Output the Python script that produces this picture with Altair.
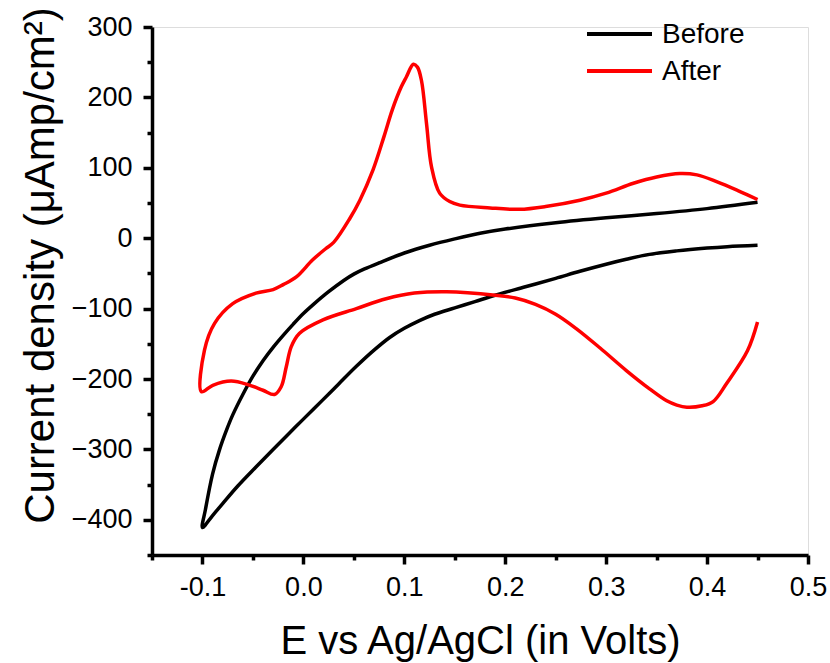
import altair as alt
import pandas as pd

series_names = ["Before", "After"]
series_colors = ["#000000", "#ff0000"]

# Before: reverse branch (right -> left) then forward branch (left -> right)
before_x = [0.45, 0.42, 0.40, 0.37, 0.343, 0.32, 0.30, 0.274, 0.25, 0.22, 0.19, 0.17, 0.15, 0.13,
            0.115, 0.10, 0.0855, 0.07, 0.0525, 0.035, 0.019, 0.0, -0.014, -0.03, -0.047, -0.065,
            -0.08, -0.09, -0.100,
            -0.097, -0.09, -0.083, -0.076, -0.07, -0.06, -0.05, -0.04, -0.03, -0.02, -0.01, 0.0,
            0.01, 0.025, 0.04, 0.05, 0.06, 0.075, 0.10, 0.125, 0.15, 0.175, 0.20, 0.25, 0.30,
            0.35, 0.40, 0.45]
before_y = [-10, -12, -14, -18, -23, -30, -37, -47, -57, -69, -81, -90, -99, -108,
            -117, -128, -141, -159, -182, -207, -230, -257, -277, -300, -325, -352,
            -377, -394, -411,
            -385, -335, -300, -272, -251, -222, -196, -174, -155, -138, -122, -107,
            -94, -76, -60, -51, -44, -35, -21, -10, -1, 7, 13, 22, 29,
            35, 42, 51]

# After: reverse branch (right -> left) then forward branch (left -> right)
after_x = [0.45, 0.44, 0.4195, 0.406, 0.395, 0.38, 0.37, 0.36, 0.343, 0.32, 0.294, 0.27, 0.25,
           0.23, 0.21, 0.19, 0.142, 0.11, 0.082, 0.0525, 0.0194, -0.0038, -0.012, -0.017, -0.022,
           -0.0286, -0.040, -0.053, -0.0716, -0.0898, -0.101,
           -0.098, -0.088, -0.070, -0.047, -0.030, -0.020, -0.007, 0.009, 0.022, 0.030, 0.046,
           0.056, 0.069, 0.080, 0.088, 0.097, 0.102, 0.109, 0.113, 0.117, 0.122, 0.127, 0.135,
           0.145, 0.155, 0.185, 0.214, 0.24, 0.274, 0.30, 0.327, 0.35, 0.373, 0.39, 0.41, 0.43, 0.45]
after_y = [-119, -160, -206, -232, -238, -240, -237, -231, -214, -188, -156, -128, -108,
           -94, -85, -81, -76, -78, -86, -100, -116, -135, -154, -183, -211,
           -222, -216, -209, -203, -209, -218,
           -159, -121, -93, -78, -73, -66, -55, -31, -15, -6, 28,
           54, 97, 145, 182, 215, 229, 247, 243, 224, 163, 101, 64,
           52, 47, 43, 41, 45, 54, 64, 78, 87, 92, 90, 80, 68, 55]

x_ticks = [-0.15, -0.1, -0.05, 0.0, 0.05, 0.1, 0.15, 0.2, 0.25, 0.3, 0.35, 0.4, 0.45, 0.5]
y_ticks = [-450, -400, -350, -300, -250, -200, -150, -100, -50, 0, 50, 100, 150, 200, 250, 300]

rows = []
for name, xs, ys in [("Before", before_x, before_y), ("After", after_x, after_y)]:
    for i, (xv, yv) in enumerate(zip(xs, ys)):
        rows.append({"series": name, "E": xv, "J": yv, "idx": i})
df = pd.DataFrame(rows)

FONT = "Liberation Sans"
color_scale = alt.Scale(domain=series_names, range=series_colors)

x_axis = alt.Axis(
    values=x_ticks,
    title="E vs Ag/AgCl (in Volts)",
    titleFont=FONT, titleFontSize=40, titleFontWeight="normal", titleColor="#000",
    titleBaseline="alphabetic", titleY=98,
    labelFont=FONT, labelFontSize=27, labelColor="#000",
    labelExpr="abs(round(datum.value*100)) % 10 == 0 ? (datum.value < -0.001 ? '-' + format(-datum.value, '.1f') : format(abs(datum.value), '.1f')) : ''",
    labelBaseline="alphabetic", labelPadding=31, labelFlush=False, labelOverlap=False,
    grid=False, domainColor="#000", domainWidth=3.5,
    tickColor="#000", tickWidth=3.5,
    tickSize={"condition": {"test": "abs(round(datum.value*100)) % 10 == 0", "value": 9}, "value": 5},
)
y_axis = alt.Axis(
    values=y_ticks,
    title="Current density (μAmp/cm²)",
    titleFont=FONT, titleFontSize=42, titleFontWeight="normal", titleColor="#000",
    titleBaseline="alphabetic", titleX=-99, titleY=238, titleAngle=270,
    labelFont=FONT, labelFontSize=27, labelColor="#000",
    labelExpr="abs(datum.value) % 100 == 0 ? format(datum.value, 'd') : ''",
    labelPadding=11, labelFlush=False, labelOverlap=False,
    grid=False, domainColor="#000", domainWidth=3.5,
    tickColor="#000", tickWidth=3.5,
    tickSize={"condition": {"test": "abs(datum.value) % 100 == 0", "value": 9}, "value": 5},
)

lines = alt.Chart(df).mark_line(interpolate="catmull-rom", strokeWidth=3.5).encode(
    x=alt.X("E:Q", scale=alt.Scale(domain=[-0.15, 0.5], nice=False, zero=False), axis=x_axis),
    y=alt.Y("J:Q", scale=alt.Scale(domain=[-450, 300], nice=False, zero=False), axis=y_axis),
    color=alt.Color("series:N", scale=color_scale, legend=None),
    detail="series:N",
    order="idx:Q",
)

# manual legend (line sample + label for each series)
legend_layers = []
for i, name in enumerate(series_names):
    ldf = pd.DataFrame({"series": [name]})
    ypos = 7 + 37 * i
    legend_layers.append(
        alt.Chart(ldf).mark_rule(strokeWidth=4).encode(
            x=alt.value(435), x2=alt.value(500), y=alt.value(ypos),
            color=alt.Color("series:N", scale=color_scale, legend=None),
        )
    )
    legend_layers.append(
        alt.Chart(ldf).mark_text(align="left", baseline="middle", font=FONT, fontSize=28,
                                 color="#000", dy=1).encode(
            x=alt.value(510), y=alt.value(ypos), text="series:N",
        )
    )

chart = alt.layer(lines, *legend_layers).properties(
    width=656, height=528,
    autosize=alt.AutoSizeParams(type="none"),
    padding={"left": 152, "top": 27, "right": 22, "bottom": 108},
).configure_view(stroke=None).configure(background="white")

chart.save("out.html", embed_options={"renderer": "svg", "actions": False})
